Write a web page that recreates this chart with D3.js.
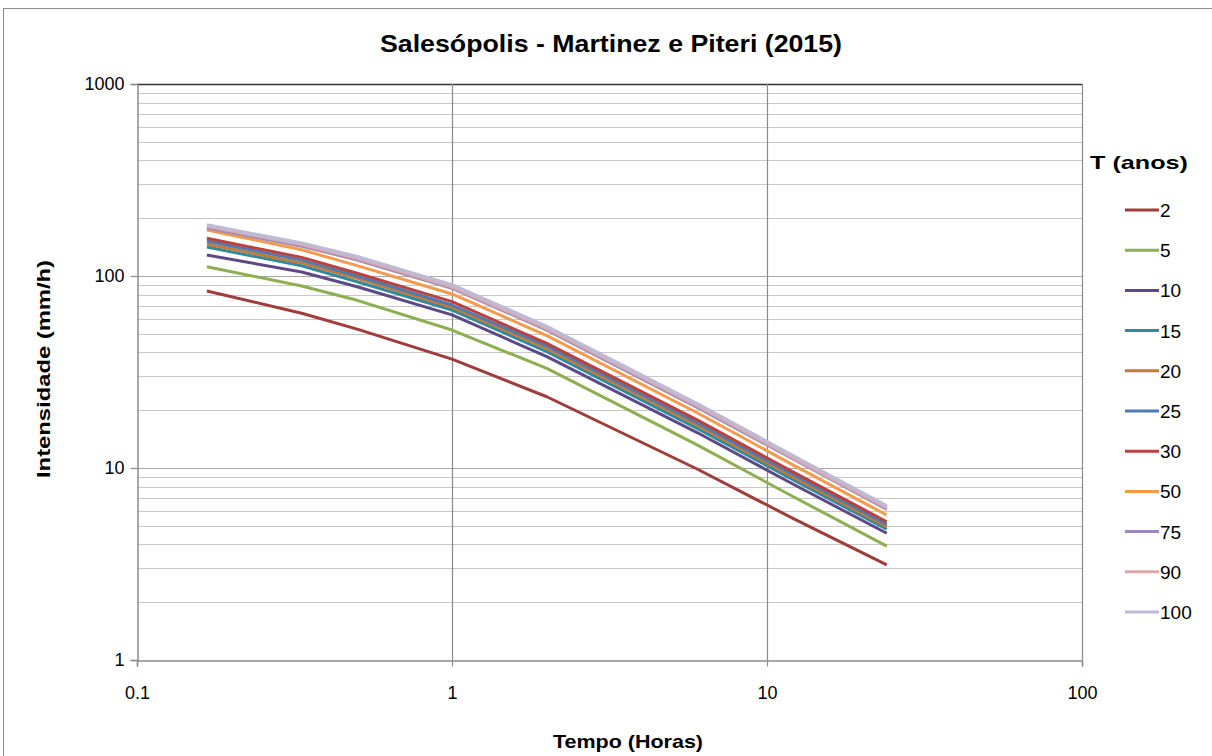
<!DOCTYPE html>
<html>
<head>
<meta charset="utf-8">
<script src="https://cdn.jsdelivr.net/npm/d3@7"></script>
<style>
  html, body { margin: 0; padding: 0; background: #fff; }
  svg { display: block; }
  text { font-family: "Liberation Sans Narrow", "Liberation Sans", "Noto Sans", sans-serif; fill: #000; }
</style>
</head>
<body>
<svg id="chart" width="1212" height="756"></svg>
<script>
// ---------- data ----------
const durations = [0.1667, 0.3333, 0.5, 1, 2, 6, 12, 24]; // hours
const returnPeriods = ["2", "5", "10", "15", "20", "25", "30", "50", "75", "90", "100"];
const s2   = [83.5, 64.0, 52.9, 36.9, 23.5, 9.88, 5.5, 3.13];
const s5   = [111.7, 88.7, 74.7, 52.3, 33.0, 13.2, 7.15, 3.92];
const s10  = [128.6, 105, 87.9, 62.7, 38.0, 15.3, 8.3, 4.57];
const s15  = [141.6, 113, 93.4, 66.5, 40.4, 16.1, 8.75, 4.80];
const s20  = [146.8, 117, 97.3, 68.7, 42.0, 16.7, 9.05, 4.95];
const s25  = [152.2, 121, 100.0, 70.6, 43.2, 17.2, 9.3, 5.09];
const s30  = [157.2, 125, 103.3, 73.5, 44.6, 17.8, 9.6, 5.25];
const s50  = [173.6, 137, 113.2, 80.6, 48.9, 19.4, 10.45, 5.69];
const s75  = [177.8, 143, 121.2, 86.3, 52.3, 20.7, 11.2, 6.09];
const s90  = [182.0, 146, 123.7, 87.9, 53.4, 21.2, 11.4, 6.21];
const s100 = [184.4, 148, 126.0, 89.8, 54.5, 21.6, 11.65, 6.34];
const seriesValues = [s2, s5, s10, s15, s20, s25, s30, s50, s75, s90, s100];
const colors = ["#A03C3A", "#8DAF4F", "#5C4A88", "#31899A", "#C27A38", "#4E7BB4",
                "#B8423F", "#F59A4B", "#9C8BB9", "#DBA8A7", "#BFB9D5"];
const xTickValues = [0.1, 1, 10, 100];
const xTickLabels = ["0.1", "1", "10", "100"];
const yTickValues = [1, 10, 100, 1000];
const yTickLabels = ["1", "10", "100", "1000"];

const title = "Salesópolis - Martinez e Piteri (2015)";
const xTitle = "Tempo (Horas)";
const yTitle = "Intensidade (mm/h)";
const legendTitle = "T (anos)";

// ---------- layout ----------
const svg = d3.select("#chart");
const L = 137, R = 1082, T = 84, B = 660;

svg.append("rect").attr("x", 3.5).attr("y", 8.5).attr("width", 1230).attr("height", 780)
   .attr("fill", "#fff").attr("stroke", "#8c8c8c").attr("stroke-width", 1);

const x = d3.scaleLog().domain([0.1, 100]).range([L, R]);
const y = d3.scaleLog().domain([1, 1000]).range([B, T]);

// minor horizontal gridlines
const minorY = [];
for (let d = 1; d < 1000; d *= 10) for (let k = 2; k <= 9; k++) minorY.push(d * k);
svg.append("g").selectAll("line").data(minorY).join("line")
   .attr("x1", L).attr("x2", R)
   .attr("y1", d => Math.round(y(d)) + 0.5).attr("y2", d => Math.round(y(d)) + 0.5)
   .attr("stroke", "#c8c8c8").attr("stroke-width", 1.2);

// major horizontal gridlines
svg.append("g").selectAll("line").data([10, 100]).join("line")
   .attr("x1", L).attr("x2", R)
   .attr("y1", d => Math.round(y(d)) + 0.5).attr("y2", d => Math.round(y(d)) + 0.5)
   .attr("stroke", "#a8a8a8").attr("stroke-width", 1.2);
svg.append("line").attr("x1", L).attr("x2", R).attr("y1", y(1000) + 0.5).attr("y2", y(1000) + 0.5)
   .attr("stroke", "#333").attr("stroke-width", 1.5);

// vertical gridlines
svg.append("g").selectAll("line").data([1, 10, 100]).join("line")
   .attr("x1", d => Math.round(x(d)) + 0.5).attr("x2", d => Math.round(x(d)) + 0.5)
   .attr("y1", T).attr("y2", B)
   .attr("stroke", "#8a8a8a").attr("stroke-width", 1.2);

// axes
const xAxis = d3.axisBottom(x).tickValues(xTickValues)
   .tickFormat((d, i) => xTickLabels[i]).tickSize(6).tickPadding(20);
const gx = svg.append("g").attr("transform", `translate(0,${B + 0.5})`).call(xAxis);
gx.select(".domain").attr("stroke", "#8a8a8a").attr("stroke-width", 1.5);
gx.selectAll(".tick line").attr("stroke", "#8a8a8a").attr("stroke-width", 1.2);
gx.selectAll(".tick text").attr("font-size", 18).attr("fill", "#000");

const yAxis = d3.axisLeft(y).tickValues(yTickValues)
   .tickFormat((d, i) => yTickLabels[i]).tickSize(7).tickPadding(6);
const gy = svg.append("g").attr("transform", `translate(${L + 0.5},0)`).call(yAxis);
gy.select(".domain").attr("stroke", "#8a8a8a").attr("stroke-width", 1.5);
gy.selectAll(".tick line").attr("stroke", "#8a8a8a").attr("stroke-width", 1.2);
gy.selectAll(".tick text").attr("font-size", 18).attr("fill", "#000");
svg.selectAll(".tick text").style("font-family", '"Liberation Sans Narrow", "Liberation Sans", sans-serif');

// series
const line = d3.line().x((d, i) => x(durations[i])).y(d => y(d));
svg.append("g").selectAll("path").data(seriesValues).join("path")
   .attr("d", d => line(d))
   .attr("fill", "none")
   .attr("stroke", (d, i) => colors[i])
   .attr("stroke-width", (d, i) => i >= 9 ? 3.6 : 3)
   .attr("stroke-linejoin", "round").attr("stroke-linecap", "butt");

// titles
svg.append("text").attr("x", 611).attr("y", 52).attr("text-anchor", "middle")
   .attr("font-size", 24).attr("font-weight", "bold").attr("textLength", 462)
   .attr("lengthAdjust", "spacingAndGlyphs").text(title);
svg.append("text").attr("x", 628).attr("y", 748).attr("text-anchor", "middle")
   .attr("font-size", 19).attr("font-weight", "bold").attr("textLength", 150)
   .attr("lengthAdjust", "spacingAndGlyphs").text(xTitle);
svg.append("text").attr("transform", "translate(50,369) rotate(-90)").attr("text-anchor", "middle")
   .attr("font-size", 19).attr("font-weight", "bold").attr("textLength", 218)
   .attr("lengthAdjust", "spacingAndGlyphs").text(yTitle);

// legend
svg.append("text").attr("x", 1139).attr("y", 169).attr("text-anchor", "middle")
   .attr("font-size", 19).attr("font-weight", "bold").attr("textLength", 98)
   .attr("lengthAdjust", "spacingAndGlyphs").text(legendTitle);
const ly = d3.scaleLinear().domain([0, returnPeriods.length - 1]).range([210, 612]);
const lg = svg.append("g").selectAll("g").data(returnPeriods).join("g")
   .attr("transform", (d, i) => `translate(0,${ly(i)})`);
lg.append("line").attr("x1", 1125).attr("x2", 1159).attr("y1", 0).attr("y2", 0)
   .attr("stroke", (d, i) => colors[i]).attr("stroke-width", 3);
lg.append("text").attr("x", 1160).attr("y", 7).attr("font-size", 19)
   .style("font-family", '"Liberation Sans", sans-serif').text(d => d);
</script>
</body>
</html>
